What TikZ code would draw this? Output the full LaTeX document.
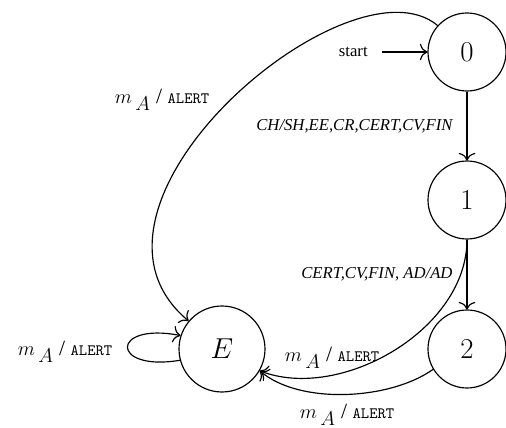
\documentclass[tikz,border=0pt]{standalone}
\usepackage[no-math]{fontspec}
\setmainfont{Liberation Serif}
\usetikzlibrary{arrows.meta}
\newcommand{\malert}{$m\,{}_{\textstyle A}$ / {\fontsize{9.5}{11}\selectfont\ttfamily ALERT}}

\begin{document}
\begin{tikzpicture}[x=0.6pt,y=-0.6pt,
      state/.style={circle,draw,line width=0.7pt,minimum size=46.8pt,
                    inner sep=0pt,font=\fontsize{18}{20}\selectfont},
      arrow/.style={-{To[length=4.5pt,width=10pt]},line width=0.7pt},
      lbl/.style={font=\fontsize{10}{12}\selectfont\itshape},
      alert/.style={font=\fontsize{13}{15}\selectfont}
    ]
    \useasboundingbox (0,0) rectangle (506,428);

    % states
    \node[state] (q0) at (467, 52) {$0$};
    \node[state] (q1) at (467,200) {$1$};
    \node[state] (q2) at (467,349) {$2$};
    \node[state,minimum size=51.6pt] (qE) at (222,349) {$E$};

    % start
    \node[anchor=east,inner sep=0pt,font=\fontsize{10}{12}\selectfont] (start) at (368,52) {start};
    \draw[arrow,shorten <=8.4pt] (start.east) -- (q0);

    % normal run
    \draw[arrow] (q0) -- node[lbl,left,xshift=-5pt]{CH/SH,EE,CR,CERT,CV,FIN} (q1);
    \draw[arrow] (q1) -- node[lbl,left,xshift=-5pt]{CERT,CV,FIN, AD/AD} (q2);

    % alerts
    \draw[arrow] (q0.138) .. controls (350,-48) and (50,205) .. (qE.140);
    \draw[arrow] (q1.south) .. controls (467,330) and (340,402) .. (qE.-30);
    \draw[arrow] (q2.211) .. controls (390,400) and (300,405) .. (qE.-30);
    \draw[arrow] (qE.195) .. controls (110,372) and (110,322) .. (qE.162);

    \node[alert] (l0) at (162,100) {\malert};
    \node[alert] (lE) at (65,352) {\malert};
    \node[alert] (l1) at (332,358) {\malert};
    \node[alert] (l2) at (347,415) {\malert};

  \end{tikzpicture}
\end{document}
